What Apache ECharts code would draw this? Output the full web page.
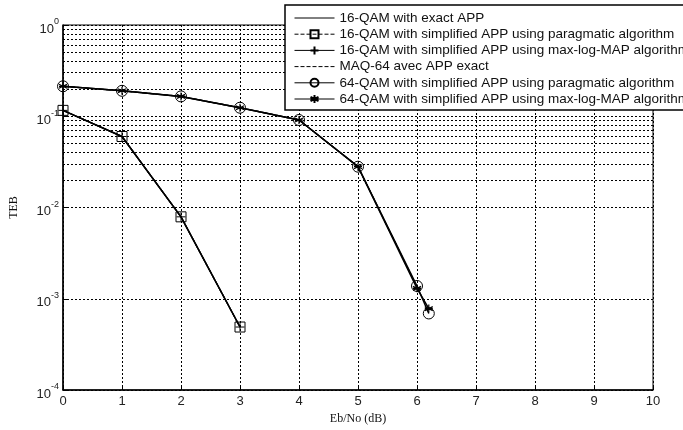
<!DOCTYPE html>
<html>
<head>
<meta charset="utf-8">
<script src="https://cdn.jsdelivr.net/npm/echarts@6/dist/echarts.min.js"></script>
<style>
  html, body { margin: 0; padding: 0; background: #fff; }
  #main { width: 683px; height: 430px; }
</style>
</head>
<body>
<div id="main"></div>
<script>
// Eb/No points (dB)
var snr16 = [0, 1, 2, 3];
var teb16 = [0.116, 0.06, 0.0079, 0.00049];

var snr64 = [0, 1, 2, 3, 4, 5, 6];
var teb64Exact = [0.213, 0.19, 0.165, 0.124, 0.091, 0.028, 0.00135];

var snr64b = [0, 1, 2, 3, 4, 5, 6, 6.2];
var teb64Prag = [0.213, 0.19, 0.165, 0.124, 0.091, 0.028, 0.00138, 0.00069];
var teb64MaxLog = [0.213, 0.19, 0.165, 0.124, 0.091, 0.028, 0.0013, 0.00078];

var names = [
  '16-QAM with exact APP',
  '16-QAM with simplified APP using paragmatic algorithm',
  '16-QAM with simplified APP using max-log-MAP algorithm',
  'MAQ-64 avec APP exact',
  '64-QAM with simplified APP using paragmatic algorithm',
  '64-QAM with simplified APP using max-log-MAP algorithm'
];

var xTicks = [0, 1, 2, 3, 4, 5, 6, 7, 8, 9, 10];
// minor grid lines of the log axis (2..9 in each decade)
var minorGrid = [];
[1e-4, 1e-3, 1e-2, 1e-1].forEach(function (d) {
  for (var k = 2; k <= 9; k++) minorGrid.push(+(d * k).toPrecision(3));
});

function pairs(xs, ys) {
  return xs.map(function (x, i) { return [x, ys[i]]; });
}

var plusPath = 'path://M0,5L10,5M5,0L5,10';
var starPath = 'path://M5,0L5,10M0,2.5L10,7.5M0,7.5L10,2.5M0,5L10,5';
// invisible marker so the legend shows the bare line
var noMark = { color: 'none', borderColor: 'none', borderWidth: 0 };

var myChart = echarts.init(document.getElementById('main'));

var option = {
  animation: false,
  textStyle: { fontFamily: 'Liberation Sans, Arial, sans-serif' },
  grid: {
    left: 58, right: 30, top: 25, bottom: 34,
    show: true, borderColor: '#000', borderWidth: 1
  },
  legend: {
    z: 100,
    orient: 'vertical',
    left: 285, top: 5,
    padding: [6, 10, 4, 9],
    itemWidth: 40, itemHeight: 10, itemGap: 2.2,
    backgroundColor: '#fff',
    borderColor: '#000', borderWidth: 1.5,
    lineStyle: { width: 1 },
    textStyle: { fontSize: 13.5, lineHeight: 14, color: '#111' },
    data: names
  },
  xAxis: {
    type: 'value', min: 0, max: 10, interval: 1,
    name: 'Eb/No (dB)', nameLocation: 'middle', nameGap: 23,
    nameTextStyle: { fontFamily: 'Liberation Serif', fontSize: 12, color: '#111' },
    axisLine: { lineStyle: { color: '#000', width: 1.5 } },
    axisTick: { inside: true, length: 5, lineStyle: { color: '#000' } },
    axisLabel: { fontSize: 13, color: '#222', margin: 5,
      formatter: function (v) { return xTicks.indexOf(v) >= 0 ? String(v) : ''; } },
    splitLine: { show: true, lineStyle: { color: '#000', type: [2, 2], width: 1 } }
  },
  yAxis: {
    type: 'log', logBase: 10, min: 1e-4, max: 1,
    name: 'TEB', nameLocation: 'middle', nameGap: 43, nameRotate: 90,
    nameTextStyle: { fontFamily: 'Liberation Serif', fontSize: 12, color: '#111' },
    axisLine: { lineStyle: { color: '#000', width: 1.5 } },
    axisTick: { inside: true, length: 5, lineStyle: { color: '#000' } },
    axisLabel: {
      margin: 4,
      formatter: function (v) {
        var e = Math.round(Math.log10(v));
        return '{b|10}{s|' + e + '}';
      },
      rich: {
        b: { fontSize: 13, color: '#222', padding: [8, 0, 0, 0] },
        s: { fontSize: 9, color: '#222', padding: [0, 0, 6, 0] }
      }
    },
    splitLine: { show: true, lineStyle: { color: '#000', type: [2, 2], width: 1 } }
  },
  series: [
    {
      name: names[0], type: 'line', symbol: 'circle', showSymbol: false,
      lineStyle: { color: '#000', width: 1.5 },
      itemStyle: noMark,
      data: pairs(snr16, teb16),
      markLine: {
        silent: true, symbol: 'none', label: { show: false },
        lineStyle: { color: '#000', type: [2, 2], width: 1 },
        data: minorGrid.map(function (v) { return { yAxis: v }; })
      }
    },
    {
      name: names[1], type: 'line', symbol: 'rect', symbolSize: 10,
      lineStyle: { color: '#000', width: 1.2, type: 'dashed' },
      itemStyle: { color: 'none', borderColor: '#000', borderWidth: 1 },
      data: pairs(snr16, teb16)
    },
    {
      name: names[2], type: 'line', symbol: plusPath, symbolSize: 9,
      lineStyle: { color: '#000', width: 1.5 },
      itemStyle: { color: 'none', borderColor: '#000', borderWidth: 1 },
      data: pairs(snr16, teb16)
    },
    {
      name: names[3], type: 'line', symbol: 'circle', showSymbol: false,
      lineStyle: { color: '#000', width: 1.2, type: 'dashed' },
      itemStyle: noMark,
      data: pairs(snr64, teb64Exact)
    },
    {
      name: names[4], type: 'line', symbol: 'circle', symbolSize: 11,
      lineStyle: { color: '#000', width: 1.5 },
      itemStyle: { color: 'none', borderColor: '#000', borderWidth: 1 },
      data: pairs(snr64b, teb64Prag)
    },
    {
      name: names[5], type: 'line', symbol: starPath, symbolSize: 8,
      lineStyle: { color: '#000', width: 1.5 },
      itemStyle: { color: 'none', borderColor: '#000', borderWidth: 1.2 },
      data: pairs(snr64b, teb64MaxLog)
    }
  ]
};

myChart.setOption(option);
</script>
</body>
</html>
